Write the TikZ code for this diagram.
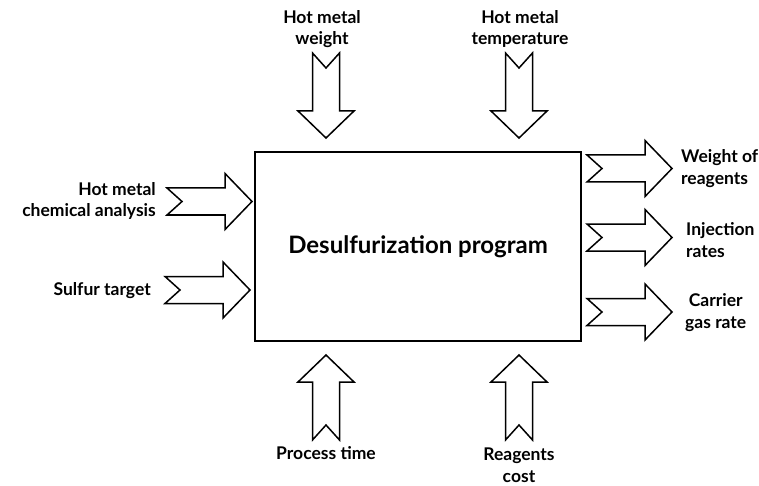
\documentclass[tikz,border=0pt]{standalone}
\usepackage{fontspec}
\setmainfont{Lato}
\usetikzlibrary{arrows.meta}
\tikzset{
  prog box/.style={draw=black,line width=1.8pt,minimum width=326pt,minimum height=189pt,
    inner sep=0pt,font=\fontsize{24}{28}\selectfont\bfseries},
  io label/.style={font=\fontsize{17.5}{21.5}\selectfont\bfseries,inner sep=0pt},
  pics/blockarrow/.style={code={
    \draw[black,line width=1.5pt,line join=miter,fill=white]
      (0,-13.5)--(58,-13.5)--(58,-28)--(85,0)--(58,28)--(58,13.5)--(0,13.5)--(15,0)--cycle;
  }}
}
\begin{document}
\begin{tikzpicture}[x=1pt,y=-1pt]
  \useasboundingbox (0,0) rectangle (759,486);
  \node[prog box] (prog) at (418,246.5) {Desulfurization program};
  % inputs on the left
  \pic at (167,201.5) {blockarrow};
  \pic at (165,290) {blockarrow};
  \node[io label,align=right,anchor=east] (chem) at (156,201) {Hot metal\\chemical analysis};
  \node[io label,anchor=east] (sulfur) at (151,291) {Sulfur target};
  % inputs from above
  \pic[rotate=-90] at (326,53) {blockarrow};
  \pic[rotate=-90] at (519,53) {blockarrow};
  \node[io label,align=center] (weight) at (322,29) {Hot metal\\weight};
  \node[io label,align=center] (temp) at (520,29) {Hot metal\\temperature};
  % outputs on the right
  \foreach \y in {168.5,237.5,312}{\pic at (587,\y) {blockarrow};}
  \node[io label,align=left,anchor=west] (reag) at (681,168.5) {Weight of\\reagents};
  \node[io label,align=left,anchor=west] (inj) at (686,240) {Injection\\rates};
  \node[io label,align=center,anchor=west] (gas) at (685,312.5) {Carrier\\gas rate};
  % inputs from below
  \pic[rotate=90] at (326,440) {blockarrow};
  \pic[rotate=90] at (519,440) {blockarrow};
  \node[io label] (time) at (326,453) {Process time};
  \node[io label,align=center] (cost) at (519,465) {Reagents\\cost};
\end{tikzpicture}
\end{document}
